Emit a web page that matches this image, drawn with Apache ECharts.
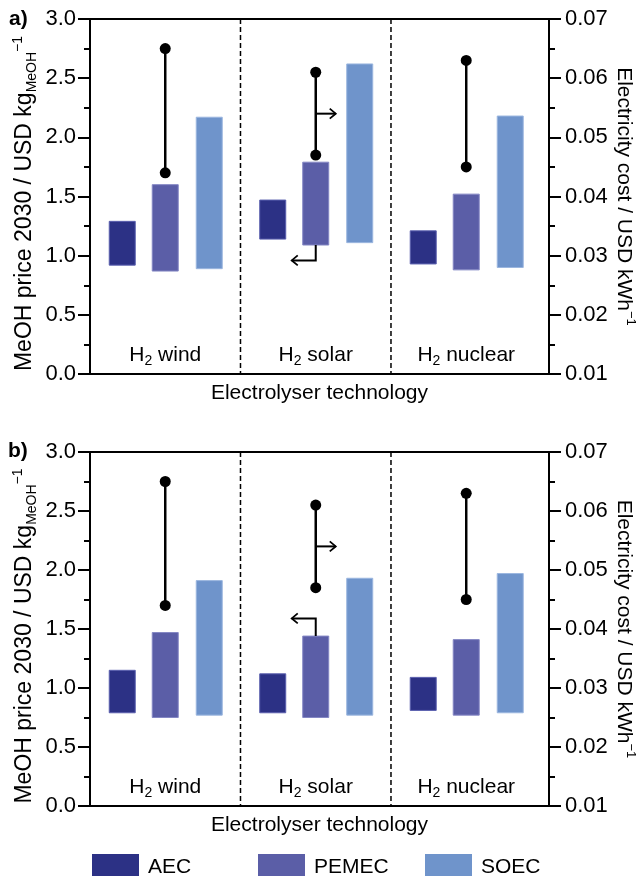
<!DOCTYPE html>
<html>
<head>
<meta charset="utf-8">
<script src="https://cdn.jsdelivr.net/npm/echarts@6/dist/echarts.min.js"></script>
<style>html,body{margin:0;padding:0;background:#fff;}#c{width:638px;height:876px;}</style>
</head>
<body>
<div id="c"></div>
<script>
// ---- data ----
const categories = ['wind', 'solar', 'nuclear'];
const techs = ['AEC', 'PEMEC', 'SOEC'];
const priceTicks = [0, 3, 0.5];          // min, max, interval (MeOH price)
const elecTicks = [0.01, 0.07, 0.01];    // min, max, interval (electricity cost)
// panel a (MeOH price 2030, USD/kg)
const aecLowA = [0.92, 1.14, 0.93];
const aecHighA = [1.29, 1.47, 1.21];
const pemecLowA = [0.87, 1.09, 0.88];
const pemecHighA = [1.60, 1.79, 1.52];
const soecLowA = [0.89, 1.11, 0.90];
const soecHighA = [2.17, 2.62, 2.18];
// panel b
const aecLowB = [0.79, 0.79, 0.81];
const aecHighB = [1.15, 1.12, 1.09];
const pemecLowB = [0.75, 0.75, 0.77];
const pemecHighB = [1.47, 1.44, 1.41];
const soecLowB = [0.77, 0.77, 0.79];
const soecHighB = [1.91, 1.93, 1.97];
// electricity cost range (USD/kWh), same in both panels
const elecLow = [0.044, 0.047, 0.045];
const elecHigh = [0.065, 0.061, 0.063];
// annotation arrows (solar group)
const arrowGroup = 1;
const arrowElec = [0.054, 0.054];          // right-pointing arrow level (electricity axis)
const arrowPriceEnd = [0.96, 1.59];        // left-pointing arrow level (price axis)
const separators = [1, 2];

// ---- styles ----
const FONT = 'Liberation Sans, Arial, Helvetica, sans-serif';
const FS = 21;
const TFS = 22;
const colors = ['#2c3185', '#5b5ea7', '#6f94cb'];
const strokes = ['#5a5fae', '#8487c4', '#9bb6df'];
const offsets = [-43, 0, 44];
const BAR_W = 26;
const xMax = 3.05;

const lows = [[aecLowA, pemecLowA, soecLowA], [aecLowB, pemecLowB, soecLowB]];
const highs = [[aecHighA, pemecHighA, soecHighA], [aecHighB, pemecHighB, soecHighB]];
const arrowStart = [pemecLowA[arrowGroup], pemecHighB[arrowGroup]];

const grids = [
  {left: 90, right: 89, top: 19, height: 355},
  {left: 90, right: 89, top: 452, height: 354}
].map(g => Object.assign(g, {
  show: true, borderColor: '#000', borderWidth: 2, backgroundColor: 'transparent',
  containLabel: false, outerBoundsMode: 'none'
}));

const xAxes = [0, 1].map(i => ({
  type: 'value', gridIndex: i, min: 0, max: xMax, interval: 0.5,
  axisLine: {show: true, lineStyle: {color: '#000', width: 2}},
  axisTick: {show: false}, splitLine: {show: false},
  axisLabel: {
    inside: true, margin: 6, color: '#000',
    formatter: v => {
      const k = Math.round(v - 0.5);
      if (Math.abs(v - k - 0.5) < 1e-6 && k >= 0 && k < categories.length) {
        return '{n|H}{s|2}{n| ' + categories[k] + '}';
      }
      return '';
    },
    rich: {
      n: {fontSize: FS, fontFamily: FONT, color: '#000', lineHeight: 26},
      s: {fontSize: 14, fontFamily: FONT, color: '#000', verticalAlign: 'bottom', lineHeight: 20}
    }
  },
  name: 'Electrolyser technology', nameLocation: 'middle', nameGap: 9,
  nameTextStyle: {fontSize: FS, fontFamily: FONT, color: '#000'}
}));

const yAxes = [];
[0, 1].forEach(i => {
  yAxes.push({
    type: 'value', gridIndex: i, position: 'left',
    min: priceTicks[0], max: priceTicks[1], interval: priceTicks[2],
    axisLine: {show: true, lineStyle: {color: '#000', width: 2}},
    axisTick: {show: true, length: 12, lineStyle: {color: '#000', width: 2}},
    minorTick: {show: true, splitNumber: 2, length: 6, lineStyle: {color: '#000', width: 2}},
    splitLine: {show: false},
    axisLabel: {margin: 14, color: '#000', fontSize: TFS, fontFamily: FONT, formatter: v => v.toFixed(1)},
    name: '{n|MeOH price 2030 / USD kg}{sub|MeOH}{sup|−1}',
    nameLocation: 'middle', nameGap: 51, nameMoveOverlap: false,
    nameTextStyle: {
      color: '#000',
      padding: [0, 14, 0, 0],
      rich: {
        n: {fontSize: 23, fontFamily: FONT, color: '#000', lineHeight: 28},
        sub: {fontSize: 14, fontFamily: FONT, color: '#000', verticalAlign: 'bottom', lineHeight: 18},
        sup: {fontSize: 14, fontFamily: FONT, color: '#000', verticalAlign: 'top', lineHeight: 15}
      }
    }
  });
  yAxes.push({
    type: 'value', gridIndex: i, position: 'right',
    min: elecTicks[0], max: elecTicks[1], interval: elecTicks[2],
    axisLine: {show: true, lineStyle: {color: '#000', width: 2}},
    axisTick: {show: true, length: 12, lineStyle: {color: '#000', width: 2}},
    minorTick: {show: true, splitNumber: 2, length: 6, lineStyle: {color: '#000', width: 2}},
    splitLine: {show: false},
    axisLabel: {margin: 16, color: '#000', fontSize: TFS, fontFamily: FONT, formatter: v => v.toFixed(2)},
    name: '{n|Electricity cost / USD kWh}{sup|−1}',
    nameLocation: 'middle', nameGap: 62, nameRotate: -90, nameMoveOverlap: false,
    nameTextStyle: {
      color: '#000',
      rich: {
        n: {fontSize: FS, fontFamily: FONT, color: '#000', lineHeight: 26},
        sup: {fontSize: 13, fontFamily: FONT, color: '#000', verticalAlign: 'top', lineHeight: 14}
      }
    }
  });
});

function barRender(t) {
  return function (params, api) {
    const g = api.value(0);
    const lo = api.coord([g + 0.5, api.value(1)]);
    const hi = api.coord([g + 0.5, api.value(2)]);
    return {
      type: 'rect',
      shape: {x: lo[0] + offsets[t] - BAR_W / 2, y: hi[1], width: BAR_W, height: lo[1] - hi[1]},
      style: {fill: colors[t], stroke: strokes[t], lineWidth: 1}
    };
  };
}

function dumbbellRender(params, api) {
  const g = api.value(0);
  const a = api.coord([g + 0.5, api.value(1)]);
  const b = api.coord([g + 0.5, api.value(2)]);
  return {
    type: 'group', children: [
      {type: 'line', shape: {x1: a[0], y1: a[1], x2: b[0], y2: b[1]}, style: {stroke: '#000', lineWidth: 2.5}},
      {type: 'circle', shape: {cx: a[0], cy: a[1], r: 5.5}, style: {fill: '#000'}},
      {type: 'circle', shape: {cx: b[0], cy: b[1], r: 5.5}, style: {fill: '#000'}}
    ]
  };
}

function sepRender(params, api) {
  const cs = params.coordSys;
  const p = api.coord([api.value(0), api.value(1)]);
  return {
    type: 'line',
    shape: {x1: p[0], y1: cs.y, x2: p[0], y2: cs.y + cs.height},
    style: {stroke: '#000', lineWidth: 1.5, lineDash: [5, 3]}
  };
}

function arrowRightRender(params, api) {
  const p = api.coord([api.value(0) + 0.5, api.value(1)]);
  const L = 20;
  return {
    type: 'group', children: [
      {type: 'polyline', shape: {points: [[p[0], p[1]], [p[0] + L, p[1]]]}, style: {stroke: '#000', lineWidth: 2, fill: null}},
      {type: 'polyline', shape: {points: [[p[0] + L - 6, p[1] - 5], [p[0] + L, p[1]], [p[0] + L - 6, p[1] + 5]]}, style: {stroke: '#000', lineWidth: 1.8, fill: null}}
    ]
  };
}

function arrowLeftRender(params, api) {
  const a = api.coord([api.value(0) + 0.5, api.value(1)]);
  const b = api.coord([api.value(0) + 0.5, api.value(2)]);
  const L = 24;
  return {
    type: 'group', children: [
      {type: 'polyline', shape: {points: [[a[0], a[1]], [a[0], b[1]], [a[0] - L, b[1]]]}, style: {stroke: '#000', lineWidth: 2, fill: null}},
      {type: 'polyline', shape: {points: [[a[0] - L + 6, b[1] - 5], [a[0] - L, b[1]], [a[0] - L + 6, b[1] + 5]]}, style: {stroke: '#000', lineWidth: 1.8, fill: null}}
    ]
  };
}

const series = [];
[0, 1].forEach(p => {
  series.push({
    type: 'custom', name: 'sep' + p, xAxisIndex: p, yAxisIndex: p * 2,
    renderItem: sepRender, encode: {x: 0, y: 1}, silent: true,
    data: separators.map(s => [s, priceTicks[0]])
  });
  techs.forEach((t, ti) => {
    series.push({
      type: 'custom', name: t, xAxisIndex: p, yAxisIndex: p * 2,
      itemStyle: {color: colors[ti]},
      renderItem: barRender(ti), encode: {x: 0, y: [1, 2]},
      data: categories.map((c, k) => [k, lows[p][ti][k], highs[p][ti][k]])
    });
  });
  series.push({
    type: 'custom', name: 'elec' + p, xAxisIndex: p, yAxisIndex: p * 2 + 1,
    renderItem: dumbbellRender, encode: {x: 0, y: [1, 2]}, silent: true,
    data: categories.map((c, k) => [k, elecLow[k], elecHigh[k]])
  });
  series.push({
    type: 'custom', name: 'arrR' + p, xAxisIndex: p, yAxisIndex: p * 2 + 1,
    renderItem: arrowRightRender, encode: {x: 0, y: 1}, silent: true,
    data: [[arrowGroup, arrowElec[p]]]
  });
  series.push({
    type: 'custom', name: 'arrL' + p, xAxisIndex: p, yAxisIndex: p * 2,
    renderItem: arrowLeftRender, encode: {x: 0, y: [1, 2]}, silent: true,
    data: [[arrowGroup, arrowStart[p], arrowPriceEnd[p]]]
  });
});

const legendLefts = [92, 258, 425];
const legends = techs.map((t, i) => ({
  data: [t], left: legendLefts[i], top: 854, icon: 'rect',
  itemWidth: 47, itemHeight: 26, padding: 0,
  textStyle: {fontSize: FS, fontFamily: FONT, color: '#000', padding: [0, 0, 0, 4]}
}));

const chart = echarts.init(document.getElementById('c'), null, {renderer: 'canvas'});
chart.setOption({
  animation: false,
  backgroundColor: '#fff',
  grid: grids,
  xAxis: xAxes,
  yAxis: yAxes,
  legend: legends,
  graphic: [
    {type: 'text', left: 9, top: 9, style: {text: 'a)', font: 'bold ' + FS + 'px ' + FONT, fill: '#000'}},
    {type: 'text', left: 8, top: 441, style: {text: 'b)', font: 'bold ' + FS + 'px ' + FONT, fill: '#000'}}
  ],
  series: series
});
</script>
</body>
</html>
